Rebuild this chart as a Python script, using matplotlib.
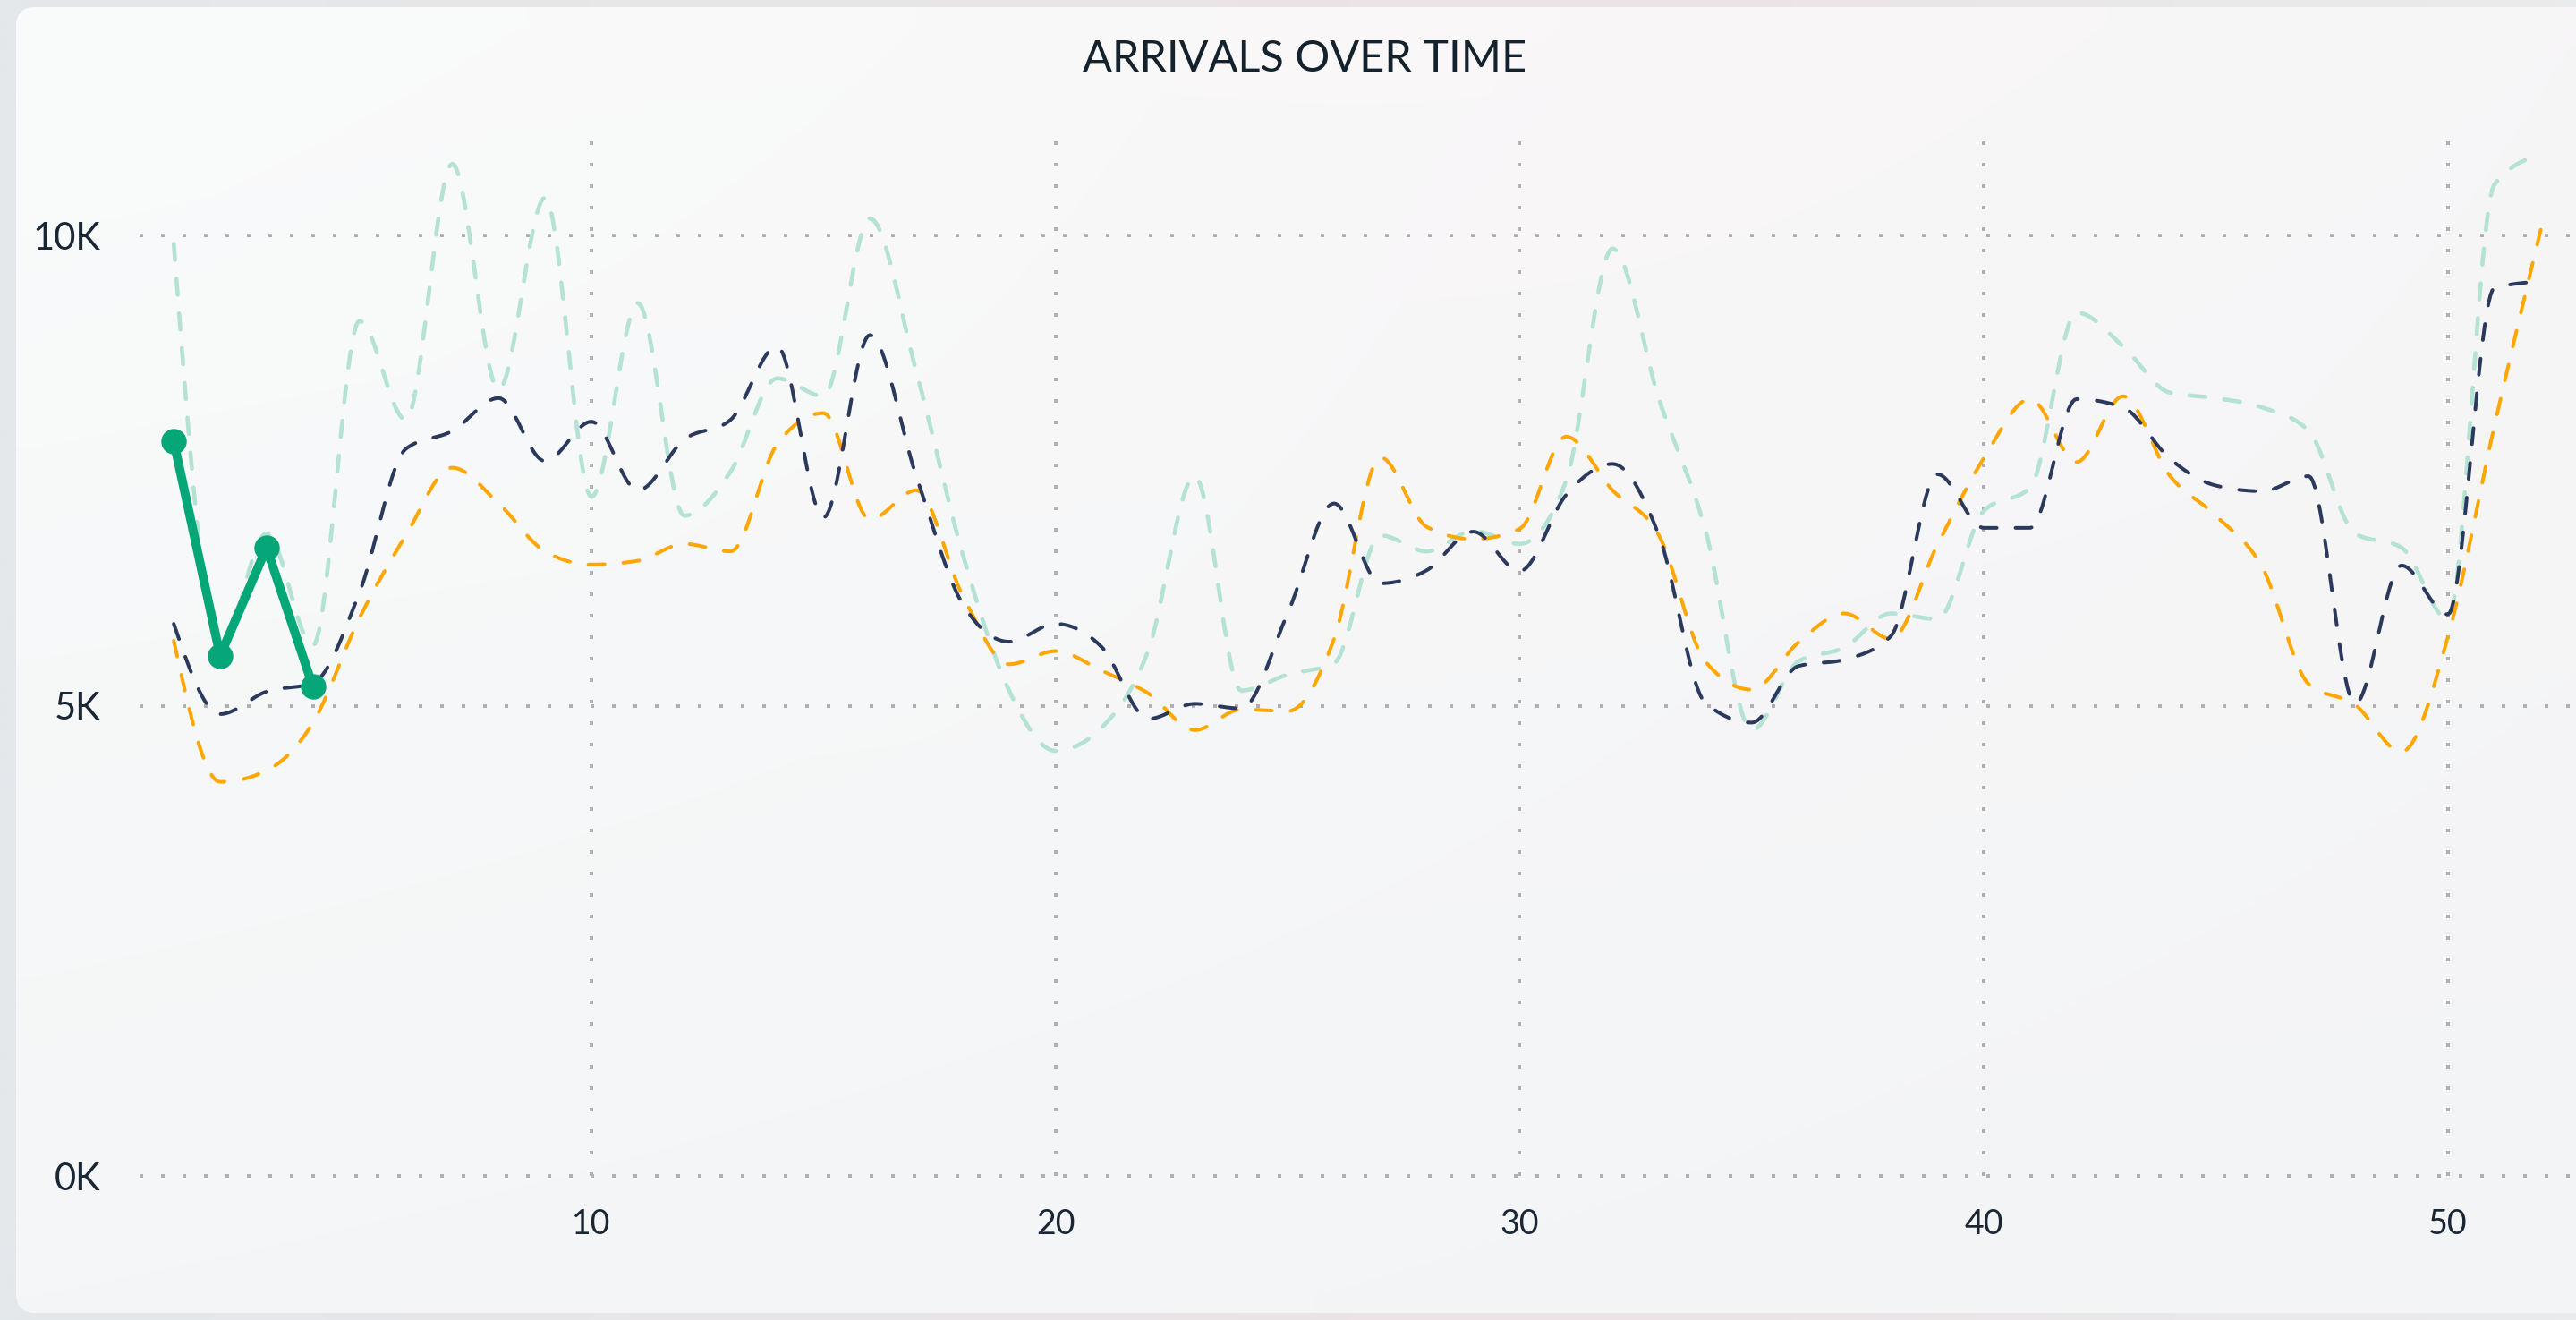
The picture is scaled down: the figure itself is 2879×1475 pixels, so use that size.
import numpy as np
import matplotlib
matplotlib.use("Agg")
import matplotlib.pyplot as plt
from matplotlib.patches import FancyBboxPatch
from matplotlib.ticker import FuncFormatter

# ---------------- data ----------------
weeks = list(range(1, 53))

series_mint = [9910, 5600, 6830, 5640, 9090, 8040, 10760, 8360, 10400, 7220,
               9280, 7020, 7490, 8480, 8290, 10180, 8550, 6610, 5160, 4520,
               4770, 5590, 7440, 5160, 5330, 5450, 6810, 6640, 6860, 6720,
               7390, 9860, 8260, 6870, 4740, 5470, 5620, 5980, 5920, 7070,
               7320, 9180, 8820, 8330, 8270, 8170, 7920, 6830, 6680, 5920,
               10540, 10860]

series_navy = [5870, 4910, 5150, 5240, 6200, 7730, 7920, 8270, 7600, 8020,
               7290, 7830, 8040, 8820, 7000, 8940, 7440, 6080, 5680, 5870,
               5620, 4860, 5020, 4970, 5980, 7150, 6300, 6440, 6850, 6430,
               7240, 7570, 6810, 5030, 4820, 5420, 5490, 5740, 7460, 6890,
               6890, 8260, 8170, 7630, 7340, 7280, 7440, 5020, 6490, 5970,
               9440, 9510]

series_orange = [5690, 4190, 4310, 4820, 5930, 6810, 7530, 7150, 6640, 6500,
                 6540, 6720, 6640, 7780, 8110, 6980, 7290, 6170, 5440, 5580,
                 5370, 5130, 4740, 4960, 4940, 5710, 7640, 6900, 6770, 6880,
                 7860, 7290, 6810, 5470, 5170, 5670, 5980, 5710, 6710, 7630,
                 8260, 7590, 8290, 7450, 7020, 6470, 5230, 5010, 4510, 5730,
                 7970, 10060]

current_weeks = [1, 2, 3, 4]
series_current = [7810, 5530, 6680, 5200]

x_ticks = [10, 20, 30, 40, 50]
y_ticks = [0, 5000, 10000]
title = "ARRIVALS OVER TIME"

# ---------------- helpers ----------------
W, H, DPI = 2879, 1475, 100
plt.rcParams["lines.scale_dashes"] = False
plt.rcParams["font.family"] = ["Lato", "DejaVu Sans"]


def px(v):
    return v * 72.0 / DPI


def monotone_curve(x, y, n=24):
    """d3 curveMonotoneX style cubic Hermite rendering of the given points."""
    x = np.asarray(x, float)
    y = np.asarray(y, float)
    h = np.diff(x)
    s = np.diff(y) / h
    m = np.zeros_like(y)
    for i in range(1, len(y) - 1):
        s0, s1 = s[i - 1], s[i]
        p = (s0 * h[i] + s1 * h[i - 1]) / (h[i - 1] + h[i])
        m[i] = (np.sign(s0) + np.sign(s1)) * min(abs(s0), abs(s1), 0.5 * abs(p))
    m[0] = (3 * s[0] - m[1]) / 2 if len(y) > 2 else s[0]
    m[-1] = (3 * s[-1] - m[-2]) / 2 if len(y) > 2 else s[-1]
    xs, ys = [], []
    for i in range(len(x) - 1):
        t = np.linspace(0, 1, n, endpoint=False)
        h00 = 2 * t**3 - 3 * t**2 + 1
        h10 = t**3 - 2 * t**2 + t
        h01 = -2 * t**3 + 3 * t**2
        h11 = t**3 - t**2
        xs.append(x[i] + t * h[i])
        ys.append(h00 * y[i] + h10 * h[i] * m[i] + h01 * y[i + 1] + h11 * h[i] * m[i + 1])
    xs.append([x[-1]])
    ys.append([y[-1]])
    return np.concatenate(xs), np.concatenate(ys)


# ---------------- figure & background ----------------
fig = plt.figure(figsize=(W / DPI, H / DPI), dpi=DPI)
fig.patch.set_facecolor("#e6e9ec")

bg = fig.add_axes([0, 0, 1, 1], zorder=-10)
bg.set_xlim(0, W)
bg.set_ylim(H, 0)
bg.axis("off")

# outer backdrop gradient
outer = np.zeros((2, 60, 3))
c_left = np.array([0xe4, 0xe8, 0xeb]) / 255
c_mid = np.array([0xec, 0xe3, 0xe6]) / 255
c_right = np.array([0xe9, 0xeb, 0xed]) / 255
for j in range(60):
    f = j / 59
    if f < 0.6:
        c = c_left + (c_mid - c_left) * (f / 0.6)
    else:
        c = c_mid + (c_right - c_mid) * ((f - 0.6) / 0.4)
    outer[:, j] = c
bg.imshow(outer, extent=(0, W, H, 0), aspect="auto", interpolation="bilinear", zorder=0)

card = FancyBboxPatch((18, 8), W + 60 - 18, 1467 - 8,
                      boxstyle="round,pad=0,rounding_size=22",
                      facecolor="#f7f8f9", edgecolor="none", zorder=1)
bg.add_patch(card)

ny, nx = 40, 80
tl = np.array([0xfa, 0xfb, 0xfb]) / 255
tr = np.array([0xf7, 0xf6, 0xf7]) / 255
bl = np.array([0xf4, 0xf6, 0xf7]) / 255
br = np.array([0xf3, 0xf4, 0xf6]) / 255
grad = np.zeros((ny, nx, 3))
for i in range(ny):
    v = i / (ny - 1)
    for j in range(nx):
        u = j / (nx - 1)
        c = (tl * (1 - u) * (1 - v) + tr * u * (1 - v) + bl * (1 - u) * v + br * u * v)
        pink = np.exp(-((u - 0.6) ** 2) / 0.05 - (v ** 2) / 0.15) * np.array([0.004, -0.004, -0.002])
        grad[i, j] = np.clip(c + pink, 0, 1)
im = bg.imshow(grad, extent=(18, W + 42, 1467, 8), aspect="auto",
               interpolation="bilinear", zorder=2)
im.set_clip_path(card)

# ---------------- main axes ----------------
left_px, right_px, top_px, bottom_px = 156, W, 158, 1314
ax = fig.add_axes([left_px / W, 1 - bottom_px / H,
                   (right_px - left_px) / W, (bottom_px - top_px) / H])
ax.patch.set_alpha(0)
x0 = 1 + (left_px - 194.2) / 51.87
x1 = 1 + (right_px - 194.2) / 51.87
ax.set_xlim(x0, x1)
ax.set_ylim(0, (bottom_px - top_px) / 105.1 * 1000)
for sp in ax.spines.values():
    sp.set_visible(False)

ax.set_xticks(x_ticks)
ax.set_yticks(y_ticks)
ax.yaxis.set_major_formatter(FuncFormatter(lambda v, p: f"{v / 1000:.0f}K"))
ax.tick_params(axis="both", length=0, colors="#1a2633")
ax.tick_params(axis="y", pad=px(44), labelsize=30)
ax.tick_params(axis="x", pad=px(36), labelsize=27)

ax.grid(True, color="#b0b0b0", linewidth=px(4), linestyle=(0, (px(4), px(20))))
for gl in ax.get_xgridlines() + ax.get_ygridlines():
    gl.set_clip_on(False)

dash = (0, (px(18), px(21)))

xs, ys = monotone_curve(weeks, series_mint)
ax.plot(xs, ys, color="#b4e2d3", lw=px(4.6), linestyle=dash,
        dash_capstyle="round", zorder=2)

xs, ys = monotone_curve(weeks, series_orange)
ax.plot(xs, ys, color="#ffa600", lw=px(4.0), linestyle=dash,
        dash_capstyle="round", zorder=3)

xs, ys = monotone_curve(weeks, series_navy)
ax.plot(xs, ys, color="#2b3a5c", lw=px(4.0), linestyle=dash,
        dash_capstyle="round", zorder=4)

ax.plot(current_weeks, series_current, color="#05a677", lw=px(10),
        marker="o", ms=px(27), mec="#05a677", mfc="#05a677", zorder=5,
        solid_joinstyle="round", clip_on=False)

fig.text(1458 / W, 1 - 80 / H, title, ha="center", va="baseline",
         fontsize=35, color="#14222e")

fig.savefig("out.png", dpi=DPI, facecolor=fig.get_facecolor())
